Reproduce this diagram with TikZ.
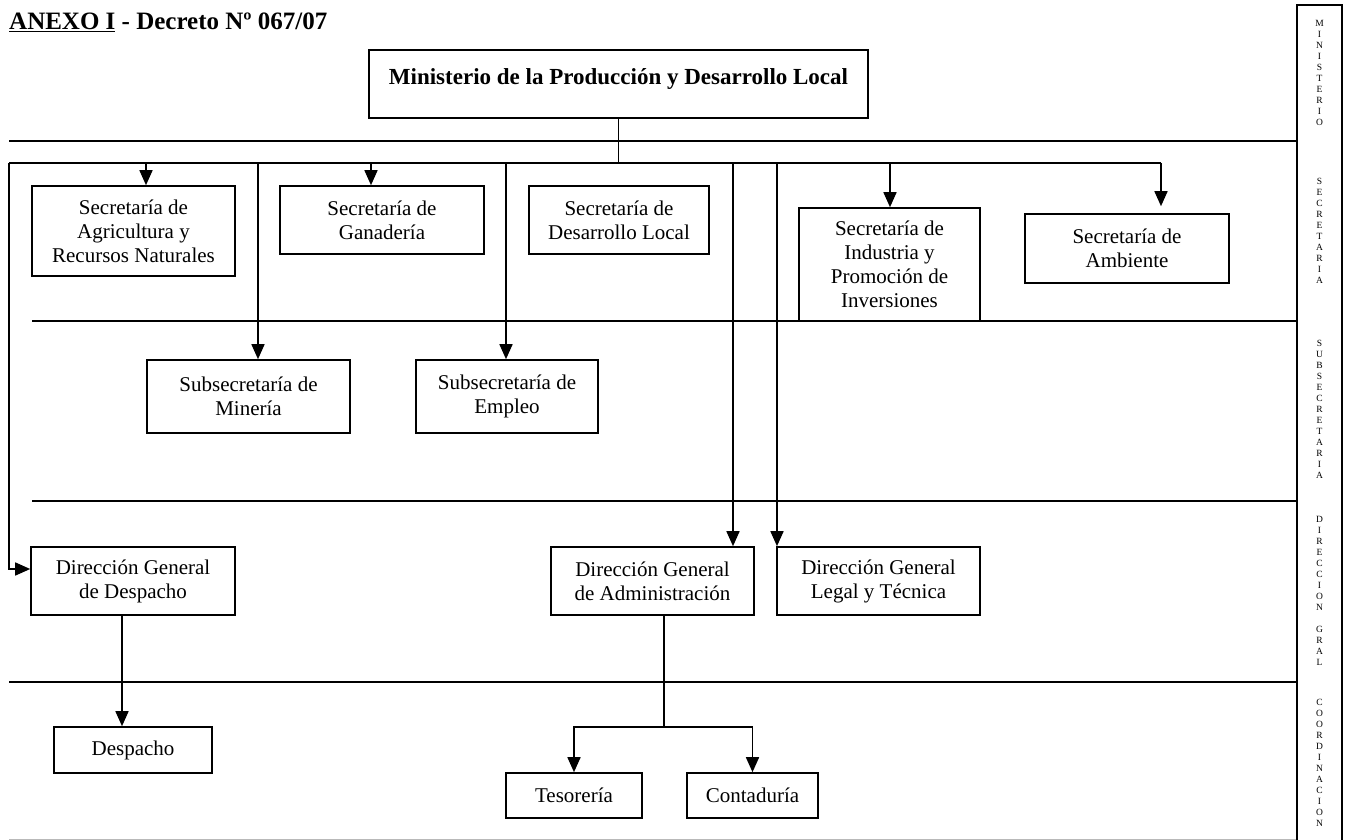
\documentclass[tikz,border=0pt]{standalone}
\usepackage{fontspec}
\setmainfont{Liberation Serif}
\usetikzlibrary{arrows.meta}

\tikzset{
  unit/.style={draw, line width=1.6pt, align=center, inner sep=0pt, font=\fontsize{21}{24}\selectfont},
  link/.style={line width=1.6pt},
  arr/.style={line width=1.6pt, -{Triangle[length=15pt,width=13pt]}},
  band/.style={line width=1.6pt},
  tag/.style={align=center, inner sep=0pt, font=\fontsize{9.5}{11}\selectfont},
}

\begin{document}
\begin{tikzpicture}[x=1pt,y=-1pt]
\useasboundingbox (0,0) rectangle (1345,840);

% title
\node[anchor=base west, inner sep=0pt, font=\fontsize{25}{28}\selectfont\bfseries] (title) at (9,30) {\underline{ANEXO I} - Decreto Nº 067/07};

% level bands
\draw[band] (9,141) -- (1297,141);
\draw[band] (32,321) -- (1297,321);
\draw[band] (32,501) -- (1297,501);
\draw[band] (9,682) -- (1297,682);
\draw[gray!55, line width=1pt] (9,839) -- (1297,839);
\draw[line width=1.9pt] (1297,840) -- (1297,5) -- (1342,5) -- (1342,840);

% level tags
\node[tag] (tmin) at (1319.5,73) {M\\I\\N\\I\\S\\T\\E\\R\\I\\O};
\node[tag] (tsec) at (1319.5,231) {S\\E\\C\\R\\E\\T\\A\\R\\I\\A};
\node[tag] (tsub) at (1319.5,409) {S\\U\\B\\S\\E\\C\\R\\E\\T\\A\\R\\I\\A};
\node[tag] (tdir) at (1319.5,591) {D\\I\\R\\E\\C\\C\\I\\O\\N\\[11pt]G\\R\\A\\L};
\node[tag] (tcoo) at (1319.5,763) {C\\O\\O\\R\\D\\I\\N\\A\\C\\I\\O\\N};

% ministerio
\node[unit, minimum width=499pt, text height=35pt, text depth=33pt, font=\fontsize{23}{26}\selectfont\bfseries] (min) at (618.5,84) {Ministerio de la Producción y Desarrollo Local};

% secretarias
\node[unit, minimum width=203pt, minimum height=90pt] (agri) at (133.5,231) {Secretaría de\\Agricultura y\\Recursos Naturales};
\node[unit, minimum width=204pt, minimum height=68pt] (gana) at (382,220) {Secretaría de\\Ganadería};
\node[unit, minimum width=180pt, minimum height=68pt] (desa) at (619,220) {Secretaría de\\Desarrollo Local};
\node[unit, minimum width=181pt, minimum height=113pt] (indu) at (889.5,264.5) {Secretaría de\\Industria y\\Promoción de\\Inversiones};
\node[unit, minimum width=204pt, minimum height=69pt] (ambi) at (1127,248.5) {Secretaría de\\Ambiente};

% subsecretarias
\node[unit, minimum width=203pt, minimum height=73pt] (mine) at (248.5,396.5) {Subsecretaría de\\Minería};
\node[unit, minimum width=182pt, minimum height=73pt] (empl) at (507,396.5) {Subsecretaría de\\Empleo};

% direcciones
\node[unit, minimum width=204pt, minimum height=68pt] (dgdes) at (133,581) {Dirección General\\de Despacho};
\node[unit, minimum width=203pt, minimum height=68pt] (dgadm) at (652.5,581) {Dirección General\\de Administración};
\node[unit, minimum width=203pt, minimum height=68pt] (dgleg) at (878.5,581) {Dirección General\\Legal y Técnica};

% coordinaciones
\node[unit, minimum width=158pt, minimum height=46pt] (desp) at (133,750) {Despacho};
\node[unit, minimum width=136pt, minimum height=45pt] (teso) at (574,795.5) {Tesorería};
\node[unit, minimum width=131pt, minimum height=45pt] (cont) at (752.5,795.5) {Contaduría};

% connectors
\coordinate (hub) at (618.5,163);
\coordinate (bl) at (9,163);
\coordinate (br) at (1161,163);
\coordinate (ja) at (146,163);
\coordinate (jg) at (371,163);
\coordinate (jm) at (258,163);
\coordinate (je) at (506,163);
\coordinate (jd) at (733,163);
\coordinate (jl) at (777,163);
\coordinate (ji) at (890,163);
\coordinate (jt) at (664,727);

\draw[link] (min.south) -- (hub);
\draw[link] (bl) -- (br);
\draw[arr] (bl) |- ([yshift=12pt]dgdes.west);
\draw[arr] (ja) -- (ja |- agri.north);
\draw[arr] (jg) -- (jg |- gana.north);
\draw[arr] (ji) -- (ji |- indu.north);
\draw[arr, shorten >=7pt] (br) -- (br |- ambi.north);
\draw[arr] (jm) -- (jm |- mine.north);
\draw[arr] (je) -- (je |- empl.north);
\draw[arr] (jd) -- (jd |- dgadm.north);
\draw[arr] (jl) -- (jl |- dgleg.north);
\draw[arr] ([xshift=-11pt]dgdes.south) -- ([xshift=-11pt]desp.north);
\draw[link] (jt |- dgadm.south) -- (jt);
\draw[arr] (jt) -| (teso.north);
\draw[arr] (jt) -| (cont.north);
\end{tikzpicture}
\end{document}
